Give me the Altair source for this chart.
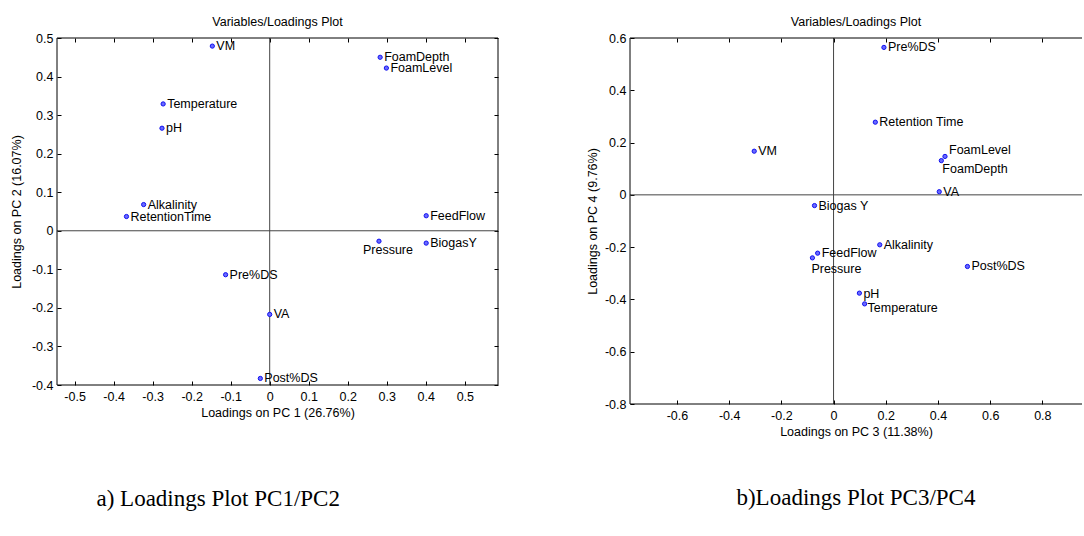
import altair as alt
import pandas as pd

SANS = "Liberation Sans"
SERIF = "Liberation Serif"
FS = 12.5

# Loadings on PC1 / PC2
names_a = ["VM", "FoamDepth", "FoamLevel", "Temperature", "pH", "Alkalinity",
           "RetentionTime", "FeedFlow", "Pressure", "BiogasY", "Pre%DS", "VA", "Post%DS"]
pc1 = [-0.147, 0.283, 0.299, -0.273, -0.276, -0.323, -0.367, 0.401, 0.280, 0.401, -0.113, 0.000, -0.024]
pc2 = [0.479, 0.450, 0.422, 0.329, 0.266, 0.068, 0.037, 0.039, -0.027, -0.032, -0.114, -0.217, -0.383]

# Loadings on PC3 / PC4
names_b = ["Pre%DS", "Retention Time", "VM", "FoamLevel", "FoamDepth", "VA", "Biogas Y",
           "Alkalinity", "FeedFlow", "Pressure", "Post%DS", "pH", "Temperature"]
pc3 = [0.193, 0.160, -0.304, 0.427, 0.413, 0.405, -0.073, 0.177, -0.061, -0.081, 0.513, 0.099, 0.119]
pc4 = [0.564, 0.278, 0.167, 0.147, 0.131, 0.012, -0.041, -0.191, -0.223, -0.241, -0.274, -0.376, -0.417]

ticks_pc1 = [-0.5, -0.4, -0.3, -0.2, -0.1, 0, 0.1, 0.2, 0.3, 0.4, 0.5]
ticks_pc2 = [-0.4, -0.3, -0.2, -0.1, 0, 0.1, 0.2, 0.3, 0.4, 0.5]
ticks_pc3 = [-0.6, -0.4, -0.2, 0, 0.2, 0.4, 0.6, 0.8]
ticks_pc4 = [-0.8, -0.6, -0.4, -0.2, 0, 0.2, 0.4, 0.6]

# label nudges (dx, dy) in pixels for labels not sitting right of their marker
nudge_a = {"Pressure": (-16, 9)}
nudge_b = {"FoamLevel": (4, -6), "FoamDepth": (1, 8), "Pressure": (-1, 11),
           "Temperature": (3, 4), "pH": (4, 1)}

TICK_FMT = "datum.value < 0 ? '-' + format(-datum.value, '~g') : format(datum.value, '~g')"


def axis(orient, values, title=None, labels=True, label_pad=4, title_pad=4):
    kw = dict(orient=orient, values=values, domain=False, grid=False,
              tickColor="black", tickSize=4, tickWidth=1, offset=-4,
              labels=labels, labelExpr=TICK_FMT, labelPadding=label_pad,
              labelFont=SANS, labelFontSize=FS, labelColor="black",
              titleFont=SANS, titleFontSize=FS, titleFontWeight="normal",
              titleColor="black", titlePadding=title_pad, title=title)
    return alt.Axis(**kw)


def panel(names, xs, ys, xdom, ydom, xticks, yticks, w, h, xtitle, ytitle,
          ytitle_pad, nudges, right_side, caption, caption_dx, caption_offset):
    df = pd.DataFrame({"name": names, "x": xs, "y": ys})
    one = pd.DataFrame({"k": [0]})
    xs_ = alt.Scale(domain=xdom, nice=False, zero=False)
    ys_ = alt.Scale(domain=ydom, nice=False, zero=False)

    def vline(v, color):
        return alt.Chart(one).mark_rule(color=color, strokeWidth=1).encode(
            x=alt.XDatum(v, type="quantitative", scale=xs_, axis=None))

    def hline(v, color):
        return alt.Chart(one).mark_rule(color=color, strokeWidth=1).encode(
            y=alt.YDatum(v, type="quantitative", scale=ys_, axis=None))

    layers = [vline(0, "#444444"), hline(0, "#444444"),
              vline(xdom[0], "black"), hline(ydom[0], "black"), hline(ydom[1], "black")]
    if right_side:
        layers.append(vline(xdom[1], "black"))

    points = alt.Chart(df).mark_point(
        filled=True, fill="#6a6aff", stroke="#1010f0", strokeWidth=1, size=18, opacity=1
    ).encode(
        x=alt.X("x:Q", scale=xs_, axis=axis("bottom", xticks, xtitle, label_pad=5, title_pad=4)),
        y=alt.Y("y:Q", scale=ys_, axis=axis("left", yticks, ytitle, label_pad=4, title_pad=ytitle_pad)),
    )
    # ticks on the top (and right) edges of the box
    ghost = alt.Chart(df).mark_point(opacity=0).encode(
        x=alt.X("x:Q", scale=xs_, axis=axis("top", xticks, labels=False)),
        y=alt.Y("y:Q", scale=ys_, axis=axis("right", yticks, labels=False) if right_side else None),
    )
    layers += [points, ghost]

    groups = {}
    for n in names:
        groups.setdefault(nudges.get(n, (4, 0)), []).append(n)
    for (dx, dy), members in groups.items():
        layers.append(
            alt.Chart(df).transform_filter(
                alt.FieldOneOfPredicate(field="name", oneOf=members)
            ).mark_text(align="left", baseline="middle", dx=dx, dy=dy,
                        font=SANS, fontSize=FS, color="black").encode(
                x=alt.X("x:Q", scale=xs_, axis=None),
                y=alt.Y("y:Q", scale=ys_, axis=None),
                text="name:N",
            )
        )

    plot = alt.layer(*layers).resolve_axis(x="independent", y="independent").properties(
        width=w, height=h,
        title=alt.TitleParams("Variables/Loadings Plot", font=SANS, fontSize=FS,
                              fontWeight="normal", color="black", offset=4),
    )
    return alt.vconcat(plot).properties(
        title=alt.TitleParams(caption, orient="bottom", anchor="start", font=SERIF,
                              fontSize=23, fontWeight="normal", color="black",
                              offset=caption_offset, dx=caption_dx)
    )


left = panel(names_a, pc1, pc2, [-0.545, 0.585], [-0.4, 0.5], ticks_pc1, ticks_pc2,
             441, 347, "Loadings on PC 1 (26.76%)", "Loadings on PC 2 (16.07%)", 8,
             nudge_a, True, "a) Loadings Plot PC1/PC2", 86, 69)
right = panel(names_b, pc3, pc4, [-0.78, 0.952], [-0.8, 0.6], ticks_pc3, ticks_pc4,
              452, 366, "Loadings on PC 3 (11.38%)", "Loadings on PC 4 (9.76%)", 5,
              nudge_b, False, "b)Loadings Plot PC3/PC4", 150, 49)

chart = alt.hconcat(left, right, spacing=87).properties(
    padding={"left": 10, "top": 15, "right": 0, "bottom": 0},
    background="white",
).configure_view(strokeWidth=0)

chart.save("out.html", embed_options={"renderer": "svg", "actions": False})
